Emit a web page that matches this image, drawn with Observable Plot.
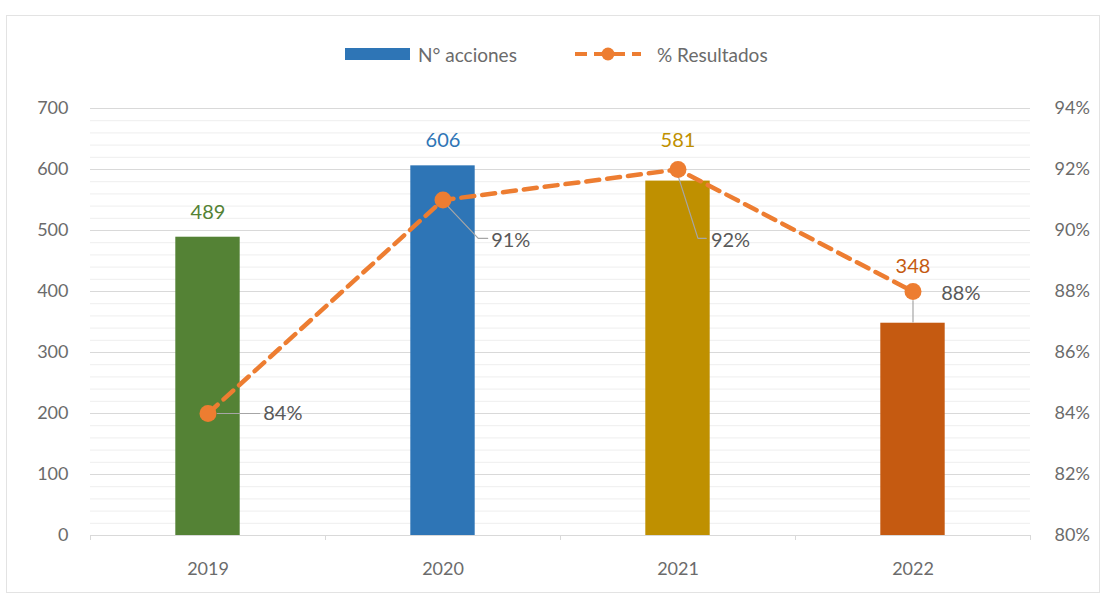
<!DOCTYPE html>
<html><head><meta charset="utf-8">
<script src="https://cdn.jsdelivr.net/npm/d3@7"></script>
<script src="https://cdn.jsdelivr.net/npm/@observablehq/plot@0.6"></script>
<style>
body{margin:0;background:#fff;font-family:Lato,"Open Sans",sans-serif;}
#frame{position:absolute;left:6px;top:15px;width:1094px;height:578px;border:1px solid #e3e3e3;box-sizing:border-box}
#legend{position:absolute;left:345px;top:44px;height:20px;display:flex;align-items:center;font-size:19px;color:#6b6b6b}
#legend .sw{margin-right:8px;flex:none}
#chart{position:absolute;left:0;top:76px}
</style></head>
<body>
<div id="frame"></div>
<div id="legend">
  <svg class="sw" width="65" height="14"><rect x="0" y="1" width="65" height="12" fill="#2E75B6"/></svg><span style="display:inline-block;width:157px">N° acciones</span>
  <svg class="sw" width="66" height="18" style="margin-right:16px"><line x1="0" y1="9" x2="66" y2="9" stroke="#ED7D31" stroke-width="4" stroke-dasharray="12,7"/><circle cx="33" cy="9" r="6.5" fill="#ED7D31"/></svg><span>% Resultados</span>
</div>
<div id="chart"></div>
<script>
const years = [2019, 2020, 2021, 2022];
const acciones = [489, 606, 581, 348];
const resultados = [84, 91, 92, 88];
const barColors = ["#548235", "#2E75B6", "#BF9000", "#C55A11"];
const leftTicks = [0, 100, 200, 300, 400, 500, 600, 700];
const rightTicks = [80, 82, 84, 86, 88, 90, 92, 94];

// secondary axis mapping: 80%..94% -> 0..700
const toLeft = p => (p - 80) * 50;

const bars = years.map((y, i) => ({year: y, value: acciones[i], color: barColors[i]}));
const pts = years.map((y, i) => ({year: y, pct: resultados[i], v: toLeft(resultados[i])}));

// label layout (annotation placement, in data units)
const barLabelY = [529, 647, 647, 441];
const pctLabel = [{dx: 0.235, y: 200}, {dx: 0.205, y: 484}, {dx: 0.14, y: 484}, {dx: 0.12, y: 397}];
const leaders = [
  [[0.04, 200], [0.22, 200]],
  [[0.02, 540], [0.15, 487], [0.19, 487]],
  [[0.0, 590], [0.085, 487], [0.12, 487]],
  [[0.0, 385], [0.0, 350]]
];
const halfBar = 0.137;

const minor = d3.range(0, 701, 20).filter(v => v % 100 !== 0);

const leaderData = leaders.flatMap((seg, i) => seg.map(([dx, y]) => ({id: i, x: years[i] + dx, y})));

const chart = Plot.plot({
  width: 1103,
  height: 519,
  marginLeft: 90,
  marginRight: 73,
  marginTop: 32,
  marginBottom: 60,
  style: {fontFamily: "Lato, 'Open Sans', sans-serif", fontSize: "18px", color: "#6b6b6b", background: "transparent"},
  x: {type: "linear", domain: [2018.5, 2022.5], axis: null},
  y: {domain: [0, 700], axis: null},
  marks: [
    Plot.ruleY(minor, {stroke: "#eeeeee", strokeWidth: 1}),
    Plot.ruleY(leftTicks.slice(1), {stroke: "#d9d9d9", strokeWidth: 1}),
    Plot.ruleY([0], {stroke: "#d9d9d9", strokeWidth: 1}),
    Plot.axisY({ticks: leftTicks, tickSize: 0, tickPadding: 22, anchor: "left", fill: "#6b6b6b", fontSize: 18, tickFormat: d => String(d)}),
    Plot.axisY({ticks: leftTicks, tickSize: 0, tickPadding: 24, anchor: "right", fill: "#6b6b6b", fontSize: 18, tickFormat: d => (80 + d / 50) + "%"}),
    Plot.axisX({ticks: [2018.5, 2019.5, 2020.5, 2021.5, 2022.5], tickSize: 5, stroke: "#d9d9d9", tickFormat: () => ""}),
    Plot.axisX({ticks: years, tickSize: 0, tickPadding: 27, fill: "#6b6b6b", fontSize: 18, tickFormat: d => String(d)}),
    Plot.rectY(bars, {x1: d => d.year - halfBar, x2: d => d.year + halfBar, y: "value", fill: "color"}),
    Plot.line(leaderData, {x: "x", y: "y", z: "id", stroke: "#a6a6a6", strokeWidth: 1.2}),
    Plot.line(pts, {x: "year", y: "v", stroke: "#ED7D31", strokeWidth: 4.5, strokeDasharray: "13,8"}),
    Plot.dot(pts, {x: "year", y: "v", r: 8.5, fill: "#ED7D31", stroke: "none"}),
    Plot.text(bars, {x: "year", y: (d, i) => barLabelY[i], text: d => String(d.value), fill: "color", fontSize: 20}),
    Plot.text(pts, {x: (d, i) => d.year + pctLabel[i].dx, y: (d, i) => pctLabel[i].y, text: d => d.pct + "%", fill: "#595959", fontSize: 20, textAnchor: "start"})
  ]
});
document.getElementById("chart").appendChild(chart);
</script>
</body></html>
